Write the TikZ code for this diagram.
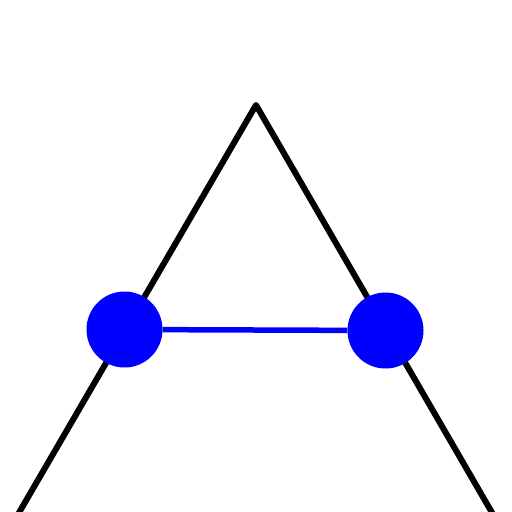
\documentclass[tikz,border=0pt]{standalone}
\begin{document}
\begin{tikzpicture}[x=1pt,y=-1pt,
  dot/.style={circle,fill=blue,minimum size=76pt,inner sep=0pt},
  side/.style={line width=6pt,black,line join=round}]
\useasboundingbox (0,0) rectangle (512,512);
\clip (0,0) rectangle (512,512);
\coordinate (apex) at (256,105);
\coordinate (bl) at (13,523);
\coordinate (br) at (498,523);
\draw[side] (bl) -- (apex) -- (br);
\node[dot] (a) at (124.5,329.5) {};
\node[dot] (b) at (385.5,330.5) {};
\draw[blue,line width=5.5pt] (a) -- (b);
\end{tikzpicture}
\end{document}
